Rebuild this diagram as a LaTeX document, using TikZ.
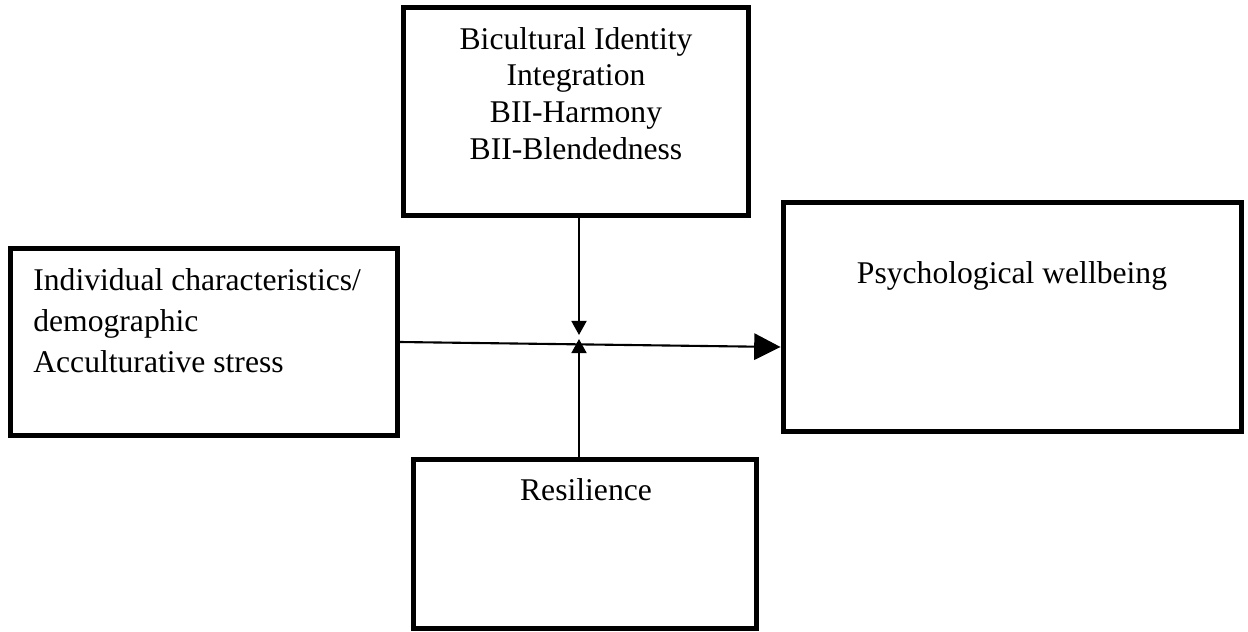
\documentclass[tikz,border=0pt]{standalone}
\usepackage{fontspec}
\setmainfont{Liberation Serif}
\usetikzlibrary{arrows.meta}
\usetikzlibrary{calc}

\begin{document}
\begin{tikzpicture}[x=0.02cm, y=-0.02cm,
    box/.style={draw, line width=2.85pt, inner sep=0pt},
    txt/.style={inner sep=0pt, font=\fontsize{18}{20.8}\selectfont},
    link/.style={line width=1.2pt}]
\useasboundingbox (0,0) rectangle (1248,632);

% boxes
\node[box, minimum width=6.91cm, minimum height=4.18cm] (bii) at (576.25,111.5) {};
\node[box, minimum width=7.73cm, minimum height=3.75cm] (indiv) at (204,342) {};
\node[box, minimum width=9.18cm, minimum height=4.59cm] (wellb) at (1012.5,317) {};
\node[box, minimum width=6.87cm, minimum height=3.39cm] (resil) at (585.25,543.75) {};

% texts (base = last line)
\node[txt, align=center, anchor=base] (biitxt) at (576,159) {Bicultural Identity\\Integration\\BII-Harmony\\BII-Blendedness};
\node[txt, align=left, anchor=base west, font=\fontsize{18}{23.3}\selectfont] (indivtxt) at (33,372) {Individual characteristics/\\demographic\\Acculturative stress};
\node[txt, anchor=base] (wellbtxt) at (1012,283) {Psychological wellbeing};
\node[txt, anchor=base] (resiltxt) at (586,500) {Resilience};

% arrows
\coordinate (tipdown) at (579,335);
\coordinate (tipup) at (579,339);
\draw[link, -{Triangle[length=15pt, width=15pt]}] (indiv.east) -- ($(wellb.west)+(0,30)$);
\draw[link, -{Triangle[length=8pt, width=8.5pt]}] (bii.south -| tipdown) -- (tipdown);
\draw[link, -{Triangle[length=8pt, width=8.5pt]}] (resil.north -| tipup) -- (tipup);

\end{tikzpicture}
\end{document}
